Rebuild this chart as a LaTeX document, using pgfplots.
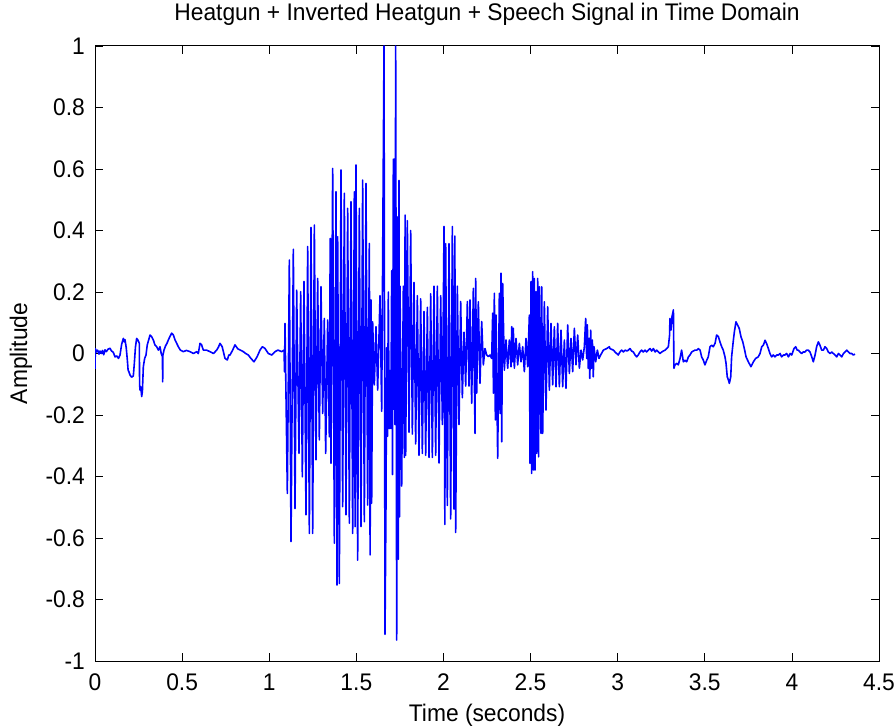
\documentclass[border=0pt]{standalone}
\usepackage{fontspec}
\setmainfont{Liberation Sans}[FakeStretch=0.95]
\usepackage{pgfplots}
\usepackage{pgfplotstable}
\pgfplotsset{compat=1.18}

% Recorded waveform (time in s, amplitude)
\pgfplotstableread{
t a
0.0000 -0.050
0.0020 0.016
0.0080 0.005
0.0150 0.011
0.0230 -0.002
0.0287 0.008
0.0360 0.000
0.0430 0.010
0.0500 -0.004
0.0574 0.012
0.0650 0.006
0.0750 0.014
0.0861 0.017
0.0950 0.008
0.1050 0.004
0.1148 -0.011
0.1250 -0.008
0.1350 -0.016
0.1435 -0.005
0.1530 0.030
0.1627 0.049
0.1680 0.038
0.1722 0.045
0.1790 0.020
0.1856 -0.021
0.1900 -0.054
0.1950 -0.060
0.2009 -0.070
0.2100 -0.077
0.2200 -0.073
0.2258 -0.032
0.2320 0.020
0.2391 0.049
0.2460 0.044
0.2544 0.033
0.2560 -0.100
0.2583 -0.119
0.2630 -0.108
0.2679 -0.140
0.2720 -0.124
0.2774 -0.043
0.2850 -0.016
0.2927 -0.005
0.3000 0.028
0.3080 0.044
0.3157 0.060
0.3250 0.055
0.3348 0.044
0.3440 0.028
0.3540 0.022
0.3640 0.011
0.3731 0.022
0.3800 0.000
0.3870 -0.010
0.3884 -0.092
0.3900 -0.005
0.3961 0.011
0.4050 0.025
0.4130 0.033
0.4210 0.044
0.4300 0.055
0.4401 0.066
0.4500 0.060
0.4592 0.044
0.4690 0.033
0.4783 0.022
0.4900 0.011
0.5070 0.006
0.5250 0.010
0.5453 0.006
0.5650 0.000
0.5836 0.006
0.5930 0.000
0.6027 0.033
0.6120 0.028
0.6218 0.011
0.6400 0.011
0.6601 0.006
0.6800 0.000
0.6984 0.011
0.7080 0.020
0.7175 0.033
0.7300 0.022
0.7462 -0.016
0.7596 -0.021
0.7680 -0.005
0.7749 -0.005
0.7900 0.011
0.8036 0.028
0.8200 0.015
0.8514 0.006
0.8650 0.000
0.8801 -0.005
0.8950 -0.016
0.9127 -0.027
0.9300 -0.011
0.9471 0.011
0.9605 0.022
0.9750 0.017
0.9949 0.000
1.0150 -0.005
1.0332 0.006
1.0500 0.011
1.0715 0.006
1.0850 0.011
1.0880 -0.060
1.0906 0.098
1.1040 -0.455
1.1155 0.304
1.1250 -0.612
1.1384 0.339
1.1480 -0.504
1.1576 0.206
1.1709 -0.325
1.1805 0.201
1.1901 -0.401
1.1996 0.234
1.2111 -0.525
1.2207 0.348
1.2303 -0.585
1.2398 0.410
1.2494 -0.585
1.2590 0.418
1.2685 -0.346
1.2781 0.244
1.2876 -0.281
1.2972 0.217
1.3068 -0.195
1.3163 0.114
1.3240 -0.325
1.3355 0.109
1.3451 -0.271
1.3500 0.374
1.3546 -0.357
1.3642 0.602
1.3737 -0.617
1.3833 0.526
1.3890 -0.753
1.3929 0.380
1.4024 -0.748
1.4120 0.597
1.4216 -0.498
1.4311 0.521
1.4407 -0.525
1.4503 0.472
1.4598 -0.552
1.4694 0.494
1.4790 -0.585
1.4885 0.526
1.4930 -0.563
1.4981 0.613
1.5076 -0.672
1.5172 0.472
1.5268 -0.563
1.5363 0.564
1.5459 -0.547
1.5555 0.553
1.5650 -0.493
1.5746 0.358
1.5790 -0.655
1.5842 0.174
1.5880 -0.487
1.5937 0.103
1.6033 -0.102
1.6129 0.087
1.6224 -0.119
1.6359 0.188
1.6455 -0.188
1.6589 1.000
1.6646 -0.913
1.6700 -0.506
1.6742 0.019
1.6790 -0.269
1.6837 0.200
1.6885 -0.244
1.6933 -0.056
1.6980 -0.244
1.7029 0.269
1.7076 -0.394
1.7124 0.632
1.7150 -0.181
1.7182 0.632
1.7220 -0.231
1.7258 1.000
1.7316 -0.932
1.7373 0.444
1.7410 -0.669
1.7450 0.563
1.7480 -0.531
1.7507 0.219
1.7603 -0.431
1.7698 0.219
1.7756 -0.338
1.7800 0.450
1.7832 -0.331
1.7928 0.432
1.8024 -0.256
1.8119 0.400
1.8215 -0.262
1.8311 0.231
1.8406 -0.294
1.8502 0.188
1.8598 -0.331
1.8693 0.178
1.8789 -0.325
1.8885 0.137
1.8980 -0.331
1.9076 0.150
1.9172 -0.338
1.9267 0.194
1.9363 -0.338
1.9459 0.219
1.9554 -0.331
1.9650 0.219
1.9746 -0.356
1.9841 0.188
1.9937 -0.231
2.0033 0.413
2.0080 -0.556
2.0128 0.357
2.0224 -0.494
2.0320 0.357
2.0415 -0.538
2.0511 0.413
2.0607 -0.506
2.0655 0.382
2.0702 -0.582
2.0798 0.219
2.0894 -0.231
2.0989 0.169
2.1085 -0.144
2.1181 0.069
2.1276 -0.106
2.1372 0.169
2.1468 -0.106
2.1525 0.174
2.1621 -0.162
2.1716 0.212
2.1812 -0.260
2.1850 0.244
2.1908 -0.129
2.2003 0.168
2.2099 -0.097
2.2195 0.104
2.2290 -0.037
2.2386 0.016
2.2482 -0.005
2.2577 -0.010
2.2673 -0.005
2.2769 -0.016
2.2826 0.131
2.2870 -0.129
2.2922 0.196
2.2980 -0.216
2.3017 0.125
2.3113 -0.341
2.3209 0.196
2.3250 -0.195
2.3304 0.261
2.3345 -0.287
2.3400 0.228
2.3496 -0.054
2.3591 0.044
2.3687 -0.048
2.3783 0.044
2.3878 -0.043
2.3920 0.087
2.3974 -0.027
2.4010 0.082
2.4070 -0.048
2.4165 0.049
2.4261 -0.037
2.4357 0.033
2.4452 -0.027
2.4548 0.022
2.4644 -0.059
2.4739 0.049
2.4835 -0.043
2.4931 0.125
2.4970 -0.357
2.5026 0.234
2.5060 -0.390
2.5122 0.266
2.5160 -0.379
2.5218 0.244
2.5260 -0.379
2.5313 0.201
2.5350 -0.325
2.5409 0.244
2.5460 -0.336
2.5505 0.217
2.5600 -0.260
2.5640 0.217
2.5696 -0.260
2.5792 0.168
2.5887 -0.184
2.5983 0.152
2.6079 -0.119
2.6174 0.098
2.6270 -0.102
2.6366 0.087
2.6461 -0.108
2.6557 0.098
2.6653 -0.108
2.6748 0.076
2.6844 -0.108
2.6940 0.044
2.7035 -0.113
2.7131 0.093
2.7227 -0.065
2.7322 0.049
2.7418 -0.059
2.7514 0.082
2.7609 -0.037
2.7705 0.060
2.7801 -0.048
2.7896 0.011
2.7992 -0.021
2.8088 0.022
2.8164 0.114
2.8220 -0.016
2.8260 0.093
2.8310 -0.048
2.8356 0.049
2.8400 -0.081
2.8451 0.076
2.8500 -0.048
2.8547 0.044
2.8600 -0.076
2.8643 0.022
2.8738 -0.027
2.8834 0.011
2.8930 -0.016
2.9025 -0.005
2.9178 0.011
2.9370 0.016
2.9523 0.022
2.9560 0.016
2.9750 0.011
2.9850 0.005
2.9940 0.000
3.0030 -0.005
3.0130 0.005
3.0230 0.011
3.0330 0.005
3.0430 0.011
3.0520 0.008
3.0620 0.011
3.0710 0.016
3.0800 0.008
3.0900 0.005
3.1000 -0.005
3.1090 -0.011
3.1180 -0.005
3.1280 0.005
3.1370 0.011
3.1470 0.005
3.1570 0.011
3.1660 0.005
3.1760 0.011
3.1860 0.016
3.1950 0.008
3.2050 0.016
3.2150 0.005
3.2240 0.011
3.2340 0.005
3.2430 0.000
3.2530 0.005
3.2620 0.008
3.2720 0.011
3.2810 0.016
3.2910 0.022
3.2980 0.060
3.3000 0.114
3.3060 0.076
3.3120 0.120
3.3200 0.142
3.3230 -0.048
3.3290 -0.037
3.3390 -0.032
3.3480 -0.037
3.3580 -0.016
3.3670 0.011
3.3770 -0.027
3.3870 -0.022
3.3960 -0.027
3.4060 -0.011
3.4150 -0.005
3.4250 0.005
3.4340 0.008
3.4440 0.011
3.4540 0.011
3.4630 0.016
3.4730 0.011
3.4820 -0.011
3.4920 -0.022
3.5010 -0.037
3.5110 -0.022
3.5200 -0.011
3.5300 0.022
3.5400 0.027
3.5490 0.022
3.5590 0.033
3.5680 0.060
3.5780 0.055
3.5870 0.038
3.5970 0.022
3.6060 0.011
3.6160 -0.011
3.6220 -0.032
3.6290 -0.076
3.6350 -0.085
3.6410 -0.097
3.6490 -0.076
3.6540 -0.011
3.6640 0.043
3.6700 0.071
3.6790 0.103
3.6890 0.092
3.6980 0.081
3.7080 0.054
3.7180 0.038
3.7270 0.016
3.7370 -0.011
3.7500 -0.027
3.7650 -0.043
3.7790 -0.027
3.7920 -0.016
3.8070 -0.011
3.8170 0.000
3.8270 0.022
3.8360 0.027
3.8460 0.043
3.8550 0.032
3.8650 0.016
3.8740 0.000
3.8840 -0.011
3.8930 -0.005
3.9030 -0.011
3.9130 -0.005
3.9220 -0.005
3.9320 0.000
3.9410 -0.011
3.9510 -0.005
3.9600 -0.005
3.9700 0.000
3.9800 -0.011
3.9900 0.000
3.9990 -0.005
4.0120 0.016
4.0220 0.022
4.0300 0.011
4.0370 0.011
4.0460 0.005
4.0560 0.000
4.0650 0.005
4.0750 0.005
4.0850 0.011
4.0940 0.011
4.1040 0.005
4.1140 -0.011
4.1230 -0.027
4.1330 -0.005
4.1420 0.022
4.1520 0.038
4.1610 0.027
4.1710 0.011
4.1810 0.011
4.1900 0.022
4.2000 0.016
4.2090 0.005
4.2190 0.000
4.2290 0.005
4.2380 0.000
4.2480 -0.005
4.2570 -0.011
4.2670 0.000
4.2770 -0.005
4.2860 -0.011
4.2960 0.000
4.3050 0.005
4.3150 0.011
4.3240 0.005
4.3340 0.000
4.3430 0.000
4.3530 -0.005
4.3620 -0.002
}\signal

\begin{document}
\fontsize{24bp}{28bp}\selectfont
\begin{tikzpicture}
\useasboundingbox (0,0) rectangle (896bp,726bp);
\begin{axis}[
  at={(95bp,65bp)}, anchor=south west,
  width=784bp, height=615bp, scale only axis,
  xmin=0, xmax=4.5, ymin=-1, ymax=1,
  xtick={0,0.5,1,1.5,2,2.5,3,3.5,4,4.5},
  xticklabels={0,0.5,1,1.5,2,2.5,3,3.5,4,4.5},
  ytick={-1,-0.8,-0.6,-0.4,-0.2,0,0.2,0.4,0.6,0.8,1},
  yticklabels={-1,-0.8,-0.6,-0.4,-0.2,0,0.2,0.4,0.6,0.8,1},
  tick align=inside, tick pos=both,
  major tick length=8bp,
  tick style={black, line width=0.6bp},
  axis line style={black, line width=1bp},
  xticklabel style={anchor=base, yshift=-29bp, inner sep=0pt},
  yticklabel style={anchor=east, xshift=-10bp, inner sep=0pt},
  title={Heatgun + Inverted Heatgun + Speech Signal in Time Domain},
  title style={at={(axis description cs:0.5,1.0325)}, anchor=base, inner sep=0pt},
  xlabel={Time (seconds)},
  xlabel style={at={(axis description cs:0.5,-0.0976)}, anchor=base, inner sep=0pt},
  ylabel={Amplitude},
  ylabel style={at={(axis description cs:-0.0944,0.5)}, anchor=center, inner sep=0pt},
]
\addplot[color={rgb,1:red,0;green,0;blue,1}, line width=1.6bp, line join=round, mark=none]
  table[x=t, y=a] {\signal};
\end{axis}
\end{tikzpicture}
\end{document}
